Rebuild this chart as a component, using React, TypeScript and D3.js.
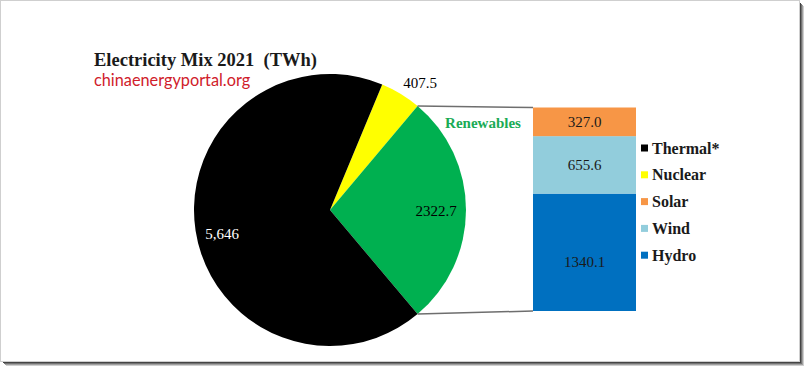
import React from "react";
import * as d3 from "d3";

// pie data (TWh)
const pieNames = ["Nuclear", "Renewables", "Thermal*"];
const pieValues = [407.5, 2322.7, 5646];
const pieLabels = ["407.5", "2322.7", "5,646"];
const pieColors = ["#ffff00", "#00b050", "#000000"];

// renewables breakdown, bottom to top
const barNames = ["Hydro", "Wind", "Solar"];
const barValues = [1340.1, 655.6, 327.0];
const barColors = ["#0070c0", "#92cddc", "#f79646"];

const legendNames = ["Thermal*", "Nuclear", "Solar", "Wind", "Hydro"];
const legendColors = ["#000000", "#ffff00", "#f79646", "#92cddc", "#0070c0"];

const W = 804;
const H = 367;
const serif = "'Liberation Serif', 'Times New Roman', serif";

const App: React.FC = () => {
  const cx = 330;
  const cy = 210;
  const r = 136;

  const total = d3.sum(pieValues);
  const renewAngle = (pieValues[1] / total) * 2 * Math.PI;
  const nucAngle = (pieValues[0] / total) * 2 * Math.PI;
  // renewables slice centred on the right-hand horizontal
  const start = Math.PI / 2 - renewAngle / 2 - nucAngle;

  const pie = d3
    .pie<number>()
    .sort(null)
    .value((d) => d)
    .startAngle(start)
    .endAngle(start + 2 * Math.PI);
  const arcs = pie(pieValues);
  const arc = d3.arc<d3.PieArcDatum<number>>().innerRadius(0).outerRadius(r);

  const renew = arcs[1];
  const p1 = [cx + r * Math.sin(renew.startAngle), cy - r * Math.cos(renew.startAngle)];
  const p2 = [cx + r * Math.sin(renew.endAngle), cy - r * Math.cos(renew.endAngle)];

  // stacked bar
  const barX = 533;
  const barW = 103;
  const y = d3.scaleLinear().domain([0, d3.sum(barValues)]).range([311, 107.5]);
  const stacked = barValues.map((v, i) => {
    const below = d3.sum(barValues.slice(0, i));
    return { name: barNames[i], v, y0: y(below), y1: y(below + v), color: barColors[i] };
  });

  // pie label positions (as placed in the original)
  const labelPos = [
    [420, 83, "#000"],
    [436, 211, "#000"],
    [222, 234, "#fff"],
  ];

  return (
    <svg
      width={W}
      height={H}
      style={{ position: "absolute", left: 0, top: 0, background: "#fff" }}
    >
      {/* frame with shadow */}
      <rect x={0.5} y={0.5} width={799} height={361} fill="#fff" stroke="#cfcfcf" />
      {[0, 1, 2, 3].map((i) => (
        <g key={i} opacity={1 - i * 0.25}>
          <line x1={800.5 + i} y1={3 + i} x2={800.5 + i} y2={362 + i} stroke="#444" />
          <line x1={3 + i} y1={362.5 + i} x2={801 + i} y2={362.5 + i} stroke="#444" />
        </g>
      ))}

      {/* title */}
      <text
        x={94}
        y={66}
        fontFamily={serif}
        fontWeight="bold"
        fontSize={18.5}
        fill="#1a1a1a"
        style={{ whiteSpace: "pre" }}
      >
        {"Electricity Mix 2021  (TWh)"}
      </text>
      <text x={94} y={86} fontFamily="Lato, 'Open Sans', sans-serif" fontSize={16.3} fill="#d0202a">
        chinaenergyportal.org
      </text>

      {/* pie */}
      <g transform={`translate(${cx},${cy})`}>
        {arcs.map((a, i) => (
          <path key={pieNames[i]} d={arc(a) || ""} fill={pieColors[i]} />
        ))}
      </g>
      {pieLabels.map((t, i) => (
        <text
          key={t}
          x={labelPos[i][0] as number}
          y={labelPos[i][1] as number}
          dy="0.35em"
          textAnchor="middle"
          fontFamily={serif}
          fontSize={15}
          fill={labelPos[i][2] as string}
        >
          {t}
        </text>
      ))}
      <text
        x={483}
        y={123}
        dy="0.35em"
        textAnchor="middle"
        fontFamily={serif}
        fontWeight="bold"
        fontSize={15}
        fill="#1aab55"
      >
        Renewables
      </text>

      {/* connector lines */}
      <line x1={p1[0]} y1={p1[1]} x2={barX} y2={y.range()[1]} stroke="#6e6e6e" strokeWidth={1.5} />
      <line x1={p2[0]} y1={p2[1]} x2={barX} y2={y.range()[0]} stroke="#6e6e6e" strokeWidth={1.5} />

      {/* stacked bar */}
      {stacked.map((s) => (
        <g key={s.name}>
          <rect x={barX} y={s.y1} width={barW} height={s.y0 - s.y1} fill={s.color} />
          <text
            x={barX + barW / 2}
            y={(s.y0 + s.y1) / 2 + (s.name === "Hydro" ? 9 : 0)}
            dy="0.35em"
            textAnchor="middle"
            fontFamily={serif}
            fontSize={15}
            fill="#1a1a1a"
          >
            {s.v.toFixed(1)}
          </text>
        </g>
      ))}

      {/* legend */}
      {legendNames.map((n, i) => (
        <g key={n} transform={`translate(641,${148 + i * 26.8})`}>
          <rect x={0} y={-3.5} width={7} height={7} fill={legendColors[i]} />
          <text
            x={11}
            y={0}
            dy="0.35em"
            fontFamily={serif}
            fontWeight="bold"
            fontSize={16}
            fill="#1a1a1a"
          >
            {n}
          </text>
        </g>
      ))}
    </svg>
  );
};

export default App;
